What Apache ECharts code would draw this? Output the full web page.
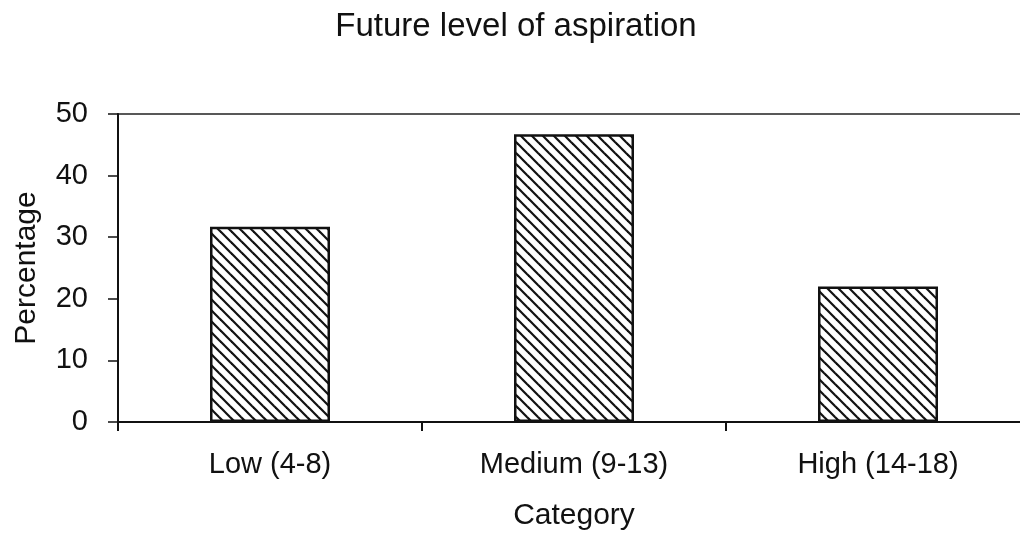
<!DOCTYPE html>
<html>
<head>
<meta charset="utf-8">
<title>Future level of aspiration</title>
<script src="https://cdn.jsdelivr.net/npm/echarts@6/dist/echarts.min.js"></script>
<style>
  html, body { margin: 0; padding: 0; background: #fff; }
  #chart { width: 1020px; height: 540px; }
</style>
</head>
<body>
<div id="chart"></div>
<script>
// Aspiration score groups and share of respondents in each
const categories = ['Low (4-8)', 'Medium (9-13)', 'High (14-18)'];
const percentages = [31.7, 46.7, 22.0];
const yTicks = { min: 0, max: 50, interval: 10 };

// Diagonal hatch fill ("\" direction) for the bars
function makeHatch(size, lineWidth, color) {
  const c = document.createElement('canvas');
  c.width = size;
  c.height = size;
  const ctx = c.getContext('2d');
  ctx.fillStyle = '#fff';
  ctx.fillRect(0, 0, size, size);
  ctx.strokeStyle = color;
  ctx.lineWidth = lineWidth;
  ctx.lineCap = 'square';
  for (let k = -1; k <= 1; k++) {
    ctx.beginPath();
    ctx.moveTo(k * size, 0);
    ctx.lineTo(k * size + size, size);
    ctx.stroke();
  }
  return c;
}

const ink = '#111';
const font = '"Liberation Sans", Arial, sans-serif';
const chart = echarts.init(document.getElementById('chart'), null, { renderer: 'canvas' });

chart.setOption({
  animation: false,
  backgroundColor: '#fff',
  title: {
    text: 'Future level of aspiration',
    left: 511,
    textAlign: 'center',
    top: 5,
    textStyle: { fontFamily: font, fontSize: 33, fontWeight: 'normal', color: ink }
  },
  grid: {
    left: 118,
    top: 114,
    width: 912,
    height: 308,
    show: true,
    borderColor: '#222',
    borderWidth: 1.5,
    containLabel: false,
    outerBoundsMode: 'none'
  },
  xAxis: {
    type: 'category',
    data: categories,
    boundaryGap: true,
    name: 'Category',
    nameLocation: 'middle',
    nameGap: 79,
    nameTextStyle: { fontFamily: font, fontSize: 30, color: ink },
    axisLine: { show: true, lineStyle: { color: ink, width: 2 } },
    axisTick: { show: true, length: 9, alignWithLabel: false, lineStyle: { color: ink, width: 2 } },
    axisLabel: { margin: 28, fontFamily: font, fontSize: 29, color: ink },
    splitLine: { show: false }
  },
  yAxis: {
    type: 'value',
    min: yTicks.min,
    max: yTicks.max,
    interval: yTicks.interval,
    name: 'Percentage',
    nameLocation: 'middle',
    nameGap: 76,
    nameRotate: 90,
    nameTextStyle: { fontFamily: font, fontSize: 30, color: ink },
    axisLine: { show: true, lineStyle: { color: ink, width: 2 } },
    axisTick: { show: true, length: 10, inside: false, lineStyle: { color: ink, width: 1.5 } },
    axisLabel: { margin: 30, fontFamily: font, fontSize: 29, color: ink },
    splitLine: { show: false }
  },
  series: [{
    type: 'bar',
    data: percentages,
    barWidth: 120,
    itemStyle: {
      color: { image: makeHatch(11, 2.2, '#111'), repeat: 'repeat' },
      borderColor: ink,
      borderWidth: 2.5
    },
    emphasis: { disabled: true }
  }]
});
</script>
</body>
</html>
